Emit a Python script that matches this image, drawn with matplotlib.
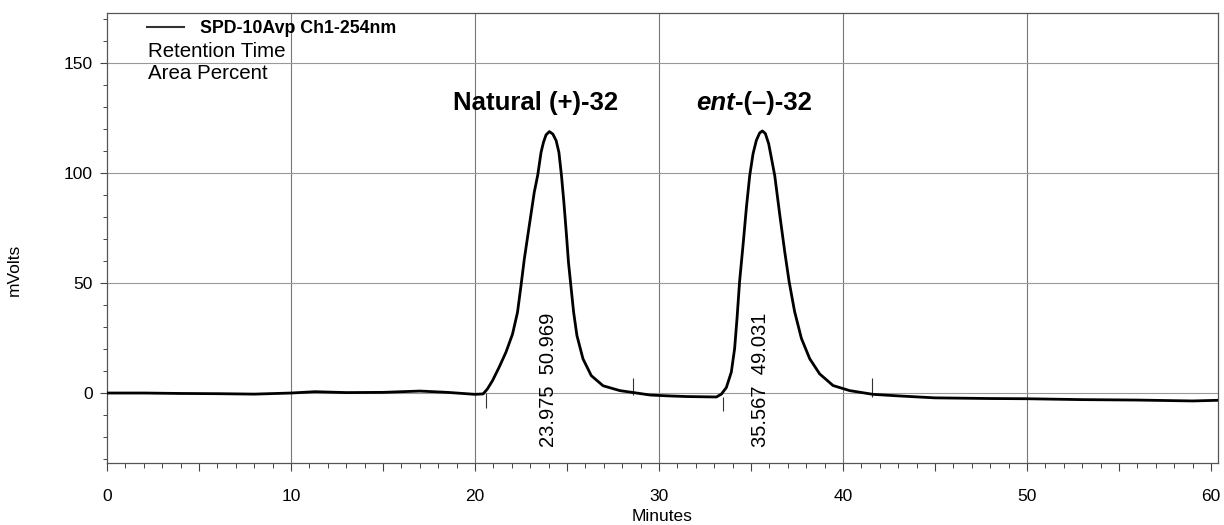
import matplotlib
matplotlib.use("Agg")
import numpy as np
import matplotlib.pyplot as plt
from matplotlib.ticker import MultipleLocator, FuncFormatter
from matplotlib.lines import Line2D

plt.rcParams['font.family'] = ['Liberation Sans', 'DejaVu Sans']

# chromatogram trace (minutes, mV)
time_min = [0.0, 2.0, 4.0, 6.0, 8.0, 10.0, 11.3, 13.0, 15.0, 17.0, 18.5, 20.0, 20.44,
            20.67, 20.95, 21.31, 21.68, 22.04, 22.31, 22.5, 22.68, 22.95, 23.22, 23.41,
            23.59, 23.72, 23.86, 24.04, 24.23, 24.41, 24.56, 24.7, 24.83, 24.96, 25.08,
            25.21, 25.36, 25.54, 25.87, 26.32, 26.96, 27.87, 28.78, 29.51,
            30.5, 31.5, 33.12,
            33.39, 33.66, 33.93, 34.11, 34.24, 34.38, 34.57, 34.75, 34.93, 35.11, 35.29,
            35.47, 35.62, 35.78, 35.96, 36.1, 36.29, 36.56, 36.83, 37.07, 37.37, 37.74,
            38.19, 38.73, 39.46, 40.36, 41.63,
            43.0, 45.0, 48.0, 50.0, 53.0, 56.0, 59.0, 60.4]
signal_mv = [0.0, 0.0, -0.2, -0.3, -0.5, 0.0, 0.6, 0.2, 0.3, 0.9, 0.3, -0.6, -0.4,
             1.8, 5.6, 11.7, 18.5, 26.8, 36.7, 48.8, 60.9, 76.1, 91.2, 99.1,
             109.4, 113.9, 117.3, 118.8, 117.7, 114.7, 109.4, 98.8, 86.7, 73.0, 59.4,
             48.8, 36.7, 26.1, 15.5, 7.9, 3.3, 1.1, 0.0, -0.9,
             -1.3, -1.6, -1.8,
             -0.5, 2.5, 9.5, 20.2, 33.9, 50.7, 67.5, 84.3, 98.8, 108.7, 114.8,
             118.2, 119.1, 117.9, 113.3, 107.2, 98.8, 81.2, 64.4, 50.7, 37.0, 24.8,
             15.6, 8.7, 3.4, 1.1, -0.6,
             -1.3, -2.2, -2.5, -2.6, -3.0, -3.2, -3.6, -3.3]

# integration start/stop marks
mark_x = [20.6, 28.6, 33.5, 41.6]
mark_lo = [-7.0, -1.0, -8.0, -2.0]
mark_hi = [0.0, 7.0, -2.0, 7.0]

# peak results
peak_rt = [23.975, 35.567]
peak_area = [50.969, 49.031]
peak_label_x = [23.97, 35.5]

fig, ax = plt.subplots(figsize=(12.24, 5.25), dpi=100)
fig.subplots_adjust(left=107/1224, right=1218/1224, top=1-13/525, bottom=1-463/525)

ax.set_xlim(0, 60.38)
ax.set_ylim(-31.8, 172.7)

for gx in np.arange(10, 60, 10):
    ax.axvline(gx, color='#777777', lw=0.8, zorder=1)
for gy in np.arange(0, 151, 50):
    ax.axhline(gy, color='#999999', lw=0.8, zorder=1)

ax.plot(time_min, signal_mv, color='black', lw=2.0, zorder=3,
        solid_joinstyle='round', solid_capstyle='round')
ax.vlines(mark_x, mark_lo, mark_hi, color='#333333', lw=0.8, zorder=2)

for x, rt, area in zip(peak_label_x, peak_rt, peak_area):
    ax.text(x, -24.5, f"{rt:.3f}  {area:.3f}", rotation=90, ha='center', va='bottom',
            fontsize=14.5, zorder=4)

ax.text(23.3, 132, "Natural (+)-32", ha='center', va='center', fontsize=18.5,
        fontweight='bold')
t1 = ax.text(32.0, 132, "ent", ha='left', va='center', fontsize=18.5,
             fontweight='bold', style='italic')
ax.annotate("-(–)-32", xy=(1, 0), xycoords=t1, ha='left', va='bottom',
            fontsize=18.5, fontweight='bold')

# legend and report header
handle = Line2D([], [], color='#333333', lw=1.5)
ax.legend([handle], ['SPD-10Avp Ch1-254nm'], loc='upper left',
          bbox_to_anchor=(0.022, 1.02), frameon=False, handlelength=2.05,
          handletextpad=0.9, prop={'weight': 'bold', 'size': 12.8})
ax.text(0.037, 0.914, "Retention Time", transform=ax.transAxes, fontsize=14.8,
        va='center', ha='left')
ax.text(0.037, 0.865, "Area Percent", transform=ax.transAxes, fontsize=14.8,
        va='center', ha='left')

ax.xaxis.set_major_locator(MultipleLocator(5))
ax.xaxis.set_major_formatter(FuncFormatter(lambda v, p: f"{v:.0f}" if v % 10 == 0 else ""))
ax.xaxis.set_minor_locator(MultipleLocator(1))
ax.yaxis.set_major_locator(MultipleLocator(50))
ax.yaxis.set_minor_locator(MultipleLocator(10))
ax.tick_params(axis='x', which='major', length=6, width=0.8, pad=13, labelsize=12.5,
               color='#444444')
ax.tick_params(axis='x', which='minor', length=3.5, width=0.7, color='#444444')
ax.tick_params(axis='y', which='major', length=5, width=0.8, pad=5, labelsize=12.5,
               color='#444444')
ax.tick_params(axis='y', which='minor', length=3, width=0.7, color='#444444')

for sp in ax.spines.values():
    sp.set_color('#555555')
    sp.set_linewidth(0.9)

ax.set_xlabel("Minutes", fontsize=12.5, labelpad=3)
ax.set_ylabel("mVolts", fontsize=12.5)
ax.yaxis.set_label_coords(-0.0765, 0.43)

fig.savefig("out.png", dpi=100)
